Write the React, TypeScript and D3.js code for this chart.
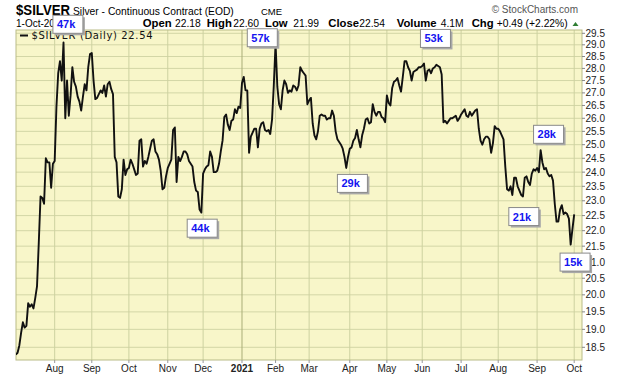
import React from "react";
import * as d3 from "d3";

// ---- calendar (COMEX/NYSE trading days) ----
const firstDay = "2020-07-01";
const lastDay = "2021-10-01";
const holidays = [
  "2020-07-03", "2020-09-07", "2020-11-26", "2020-12-25", "2021-01-01",
  "2021-01-18", "2021-02-15", "2021-04-02", "2021-05-31", "2021-07-05", "2021-09-06",
];

// ---- daily closes ----
const jul2020 = [18.3, 18.35, 18.55, 18.9, 19.2, 19.05, 19.1, 19.75, 19.65, 19.72, 19.6, 19.9, 20.25, 21.6, 23.15, 23.1, 22.9, 24.5, 24.35, 24.35, 23.45, 24.3];
const aug2020 = [24.4, 26.45, 27.8, 28.3, 27.5, 29.1, 26.0, 27.5, 26.1, 26.9, 28.05, 27.45, 27.25, 26.85, 26.65, 26.3, 26.85, 27.35, 27.1, 28.05, 28.6];
const sep2020 = [28.65, 27.5, 26.75, 26.8, 26.95, 27.1, 27.0, 27.3, 26.85, 27.35, 27.45, 27.15, 26.95, 24.55, 24.35, 23.15, 23.1, 23.4, 24.45, 23.9, 24.1];
const oct2020 = [24.15, 24.45, 24.3, 24.1, 23.9, 23.95, 25.15, 25.2, 24.2, 24.4, 24.3, 24.55, 24.85, 25.15, 25.2, 24.75, 24.65, 24.45, 24.05, 23.4, 23.45, 23.85];
const nov2020 = [24.15, 24.3, 24.45, 25.55, 25.65, 23.65, 24.55, 24.4, 24.55, 24.75, 24.75, 24.65, 24.4, 24.3, 24.2, 23.65, 23.35, 23.3, 22.7, 22.6];
const dec2020 = [23.95, 24.1, 24.2, 24.25, 24.75, 24.55, 24.0, 24.0, 24.05, 24.3, 24.75, 25.15, 26.05, 26.15, 25.75, 25.55, 25.9, 25.95, 26.35, 26.2, 26.45, 26.4];
const jan2021 = [27.4, 27.65, 27.1, 27.1, 24.7, 25.3, 25.45, 25.6, 25.6, 24.9, 25.6, 25.8, 25.85, 25.55, 25.5, 25.55, 25.4, 25.95, 27.3];
const feb2021 = [29.05, 27.25, 26.55, 26.35, 27.1, 27.5, 27.35, 27.0, 27.1, 27.05, 27.3, 27.25, 27.1, 27.3, 28.05, 27.9, 27.8, 27.7, 26.55];
const mar2021 = [26.7, 26.8, 25.8, 25.35, 25.2, 25.5, 26.1, 26.15, 26.1, 26.1, 25.95, 26.0, 26.0, 26.3, 26.1, 25.5, 25.2, 25.1, 25.0, 24.85, 24.55, 24.15, 24.55];
const apr2021 = [24.85, 24.9, 25.15, 25.25, 25.55, 25.2, 24.9, 25.35, 25.6, 25.95, 26.0, 25.8, 25.85, 26.55, 26.25, 26.1, 26.25, 26.25, 26.05, 26.0, 25.85];
const may2021 = [26.9, 26.6, 26.5, 27.2, 27.45, 27.5, 27.6, 27.3, 27.05, 27.65, 28.3, 28.3, 28.05, 27.9, 27.5, 27.85, 27.9, 27.95, 28.05, 28.05];
const jun2021 = [28.1, 28.2, 27.5, 27.9, 27.95, 27.8, 28.0, 28.05, 28.15, 28.1, 28.05, 27.75, 25.85, 25.9, 25.8, 25.9, 26.0, 26.0, 26.05, 26.1, 25.9, 26.0];
const jul2021 = [26.15, 26.25, 26.35, 26.1, 26.05, 26.25, 26.1, 26.2, 26.3, 26.35, 25.6, 25.15, 25.0, 25.2, 25.3, 25.3, 25.2, 24.7, 25.05, 25.7, 25.6];
const aug2021 = [25.6, 25.5, 25.35, 25.2, 24.2, 23.4, 23.35, 23.5, 23.2, 23.8, 23.8, 23.5, 23.35, 23.2, 23.15, 23.8, 23.85, 23.65, 23.55, 23.95, 24.1, 24.05];
const sep2021 = [24.15, 24.0, 24.8, 24.35, 24.1, 24.15, 23.95, 23.85, 23.9, 23.7, 22.9, 22.3, 22.3, 22.7, 22.85, 22.55, 22.6, 22.55, 22.4, 21.55, 22.05];
const oct2021 = [22.54];

const closes = [
  ...jul2020, ...aug2020, ...sep2020, ...oct2020, ...nov2020, ...dec2020,
  ...jan2021, ...feb2021, ...mar2021, ...apr2021, ...may2021, ...jun2021,
  ...jul2021, ...aug2021, ...sep2021, ...oct2021,
];

// ---- axis ticks ----
const yTicks = d3.range(18.5, 29.51, 0.5);

// ---- volume annotations (box anchored at date / price of its top-left) ----
const annLabels = ["47k", "57k", "53k", "44k", "29k", "28k", "21k", "15k"];
const annDates = ["2020-07-31", "2021-01-07", "2021-05-28", "2020-11-17", "2021-03-23", "2021-08-30", "2021-08-10", "2021-09-21"];
const annPrices = [30.3, 29.7, 29.67, 22.38, 23.92, 25.73, 22.77, 21.28];

// ---- header ----
const symbol = "$SILVER";
const title = "Silver - Continuous Contract (EOD)";
const exchange = "CME";
const dateLabel = "1-Oct-2021";
const quoteLabels = ["Open", "High", "Low", "Close", "Volume", "Chg"];
const quoteValues = ["22.18", "22.60", "21.99", "22.54", "4.1M", "+0.49 (+2.22%)"];

const W = 620;
const H = 376;
const plot = { left: 16, right: 582, top: 30, bottom: 360 };

const fmt = d3.utcFormat("%Y-%m-%d");
const parse = d3.utcParse("%Y-%m-%d");

function tradingDays(): Date[] {
  const hol = new Set(holidays);
  return d3
    .utcDays(parse(firstDay) as Date, d3.utcDay.offset(parse(lastDay) as Date, 1))
    .filter((d) => d.getUTCDay() !== 0 && d.getUTCDay() !== 6 && !hol.has(fmt(d)));
}

export default function App() {
  const days = tradingDays();
  const idxOf = new Map(days.map((d, i) => [fmt(d), i]));

  const x = d3.scaleLinear().domain([0, 320.3]).range([15.8, 581.8]);
  const y = d3.scaleLog().domain([18.5, 29.5]).range([347.3, 33.3]);

  const n = Math.min(days.length, closes.length);
  const pts = closes.slice(0, n);
  const line = d3
    .line<number>()
    .x((_, i) => x(i))
    .y((d) => y(d));

  const monthTicks: { i: number; label: string; year: boolean }[] = [];
  for (let i = 1; i < days.length; i++) {
    if (days[i].getUTCMonth() !== days[i - 1].getUTCMonth()) {
      const isYear = days[i].getUTCMonth() === 0;
      monthTicks.push({
        i,
        label: isYear ? d3.utcFormat("%Y")(days[i]) : d3.utcFormat("%b")(days[i]),
        year: isYear,
      });
    }
  }

  const font = "'Liberation Sans', Arial, sans-serif";
  const quoteX = [142.7, 206.7, 265, 328.3, 396.7, 471.7];
  const valueX = [175, 233.3, 293.3, 359.3, 440.7, 496.7];

  return (
    <svg
      width={W}
      height={H}
      viewBox={`0 0 ${W} ${H}`}
      style={{ position: "absolute", left: 0, top: 0, background: "#fff" }}
      fontFamily={font}
    >
      <defs>
        <clipPath id="plotclip">
          <rect x={plot.left} y={plot.top} width={plot.right - plot.left} height={plot.bottom - plot.top} />
        </clipPath>
      </defs>
      <rect x={0} y={0} width={W} height={H} fill="#fff" />
      {/* plot background */}
      <rect
        x={plot.left}
        y={plot.top}
        width={plot.right - plot.left}
        height={plot.bottom - plot.top}
        fill="#f8f6c9"
      />
      {/* horizontal grid */}
      {yTicks.map((t) => (
        <line
          key={"h" + t}
          x1={plot.left}
          x2={plot.right}
          y1={y(t)}
          y2={y(t)}
          stroke="#d3d6a6"
          strokeWidth={1}
        />
      ))}
      {/* vertical grid */}
      {monthTicks.map((m) => (
        <line
          key={"v" + m.i}
          x1={x(m.i)}
          x2={x(m.i)}
          y1={plot.top}
          y2={plot.bottom}
          stroke={m.year ? "#a9ae78" : "#cdd1a0"}
          strokeWidth={1}
        />
      ))}
      {/* border */}
      <rect
        x={plot.left}
        y={plot.top}
        width={plot.right - plot.left}
        height={plot.bottom - plot.top}
        fill="none"
        stroke="#b9bc88"
        strokeWidth={1}
      />
      {/* price line */}
      <g clipPath="url(#plotclip)">
        <path d={line(pts) || ""} fill="none" stroke="#111" strokeWidth={1.9} strokeLinejoin="round" />
      </g>
      {/* y axis */}
      {yTicks.map((t) => (
        <g key={"yl" + t}>
          <line x1={plot.right} x2={plot.right + 3} y1={y(t)} y2={y(t)} stroke="#888" />
          <text x={plot.right + 3.5} y={y(t)} dy="0.35em" fontSize={10} fill="#222">
            {t.toFixed(1)}
          </text>
        </g>
      ))}
      {/* x axis */}
      {monthTicks.map((m) => (
        <g key={"xl" + m.i}>
          <line x1={x(m.i)} x2={x(m.i)} y1={plot.bottom} y2={plot.bottom + 3} stroke="#999" />
          <text
            x={x(m.i)}
            y={372}
            textAnchor="middle"
            fontSize={10}
            fontWeight={m.year ? "bold" : "normal"}
            fill="#222"
          >
            {m.label}
          </text>
        </g>
      ))}
      {/* legend */}
      <line x1={20} x2={28} y1={35.5} y2={35.5} stroke="#111" strokeWidth={2} />
      <text
        x={31.5}
        y={39}
        fontSize={10}
        fontFamily="'DejaVu Sans', Verdana, sans-serif"
        textLength={121}
        lengthAdjust="spacing"
        fill="#111"
      >
        {`${symbol} (Daily) ${closes[closes.length - 1].toFixed(2)}`}
      </text>
      {/* header */}
      <text x={16} y={15} fontSize={14} fontWeight="bold" fill="#000" textLength={54} lengthAdjust="spacingAndGlyphs">
        {symbol}
      </text>
      <text x={73} y={14.5} fontSize={10.3} fill="#000">
        {title}
      </text>
      <text x={261} y={15} fontSize={9.5} fill="#000">
        {exchange}
      </text>
      <text x={16} y={27} fontSize={10} fill="#000">
        {dateLabel}
      </text>
      {quoteLabels.map((q, k) => (
        <g key={q}>
          <text x={quoteX[k]} y={27} fontSize={11.3} fontWeight="bold" fill="#000">
            {q}
          </text>
          <text x={valueX[k]} y={27} fontSize={10.3} fill="#000">
            {quoteValues[k]}
          </text>
        </g>
      ))}
      <path d="M572.5,26 L575.5,22 L578.5,26 Z" fill="#2e7d32" />
      <text x={578} y={13} textAnchor="end" fontSize={10} fill="#555">
        © StockCharts.com
      </text>
      {/* volume annotation boxes */}
      {annLabels.map((lab, k) => {
        const i = idxOf.get(annDates[k]) ?? 0;
        const bx = x(i);
        const by = y(annPrices[k]);
        return (
          <g key={lab + k}>
            <rect x={bx + 2} y={by + 2} width={30} height={18} fill="#a8a8a8" />
            <rect x={bx} y={by} width={30} height={18} fill="#fff" stroke="#8a8a8a" strokeWidth={1} />
            <text x={bx + 4} y={by + 13} fontSize={11} fontWeight="bold" fill="#1414f0">
              {lab}
            </text>
          </g>
        );
      })}
    </svg>
  );
}
